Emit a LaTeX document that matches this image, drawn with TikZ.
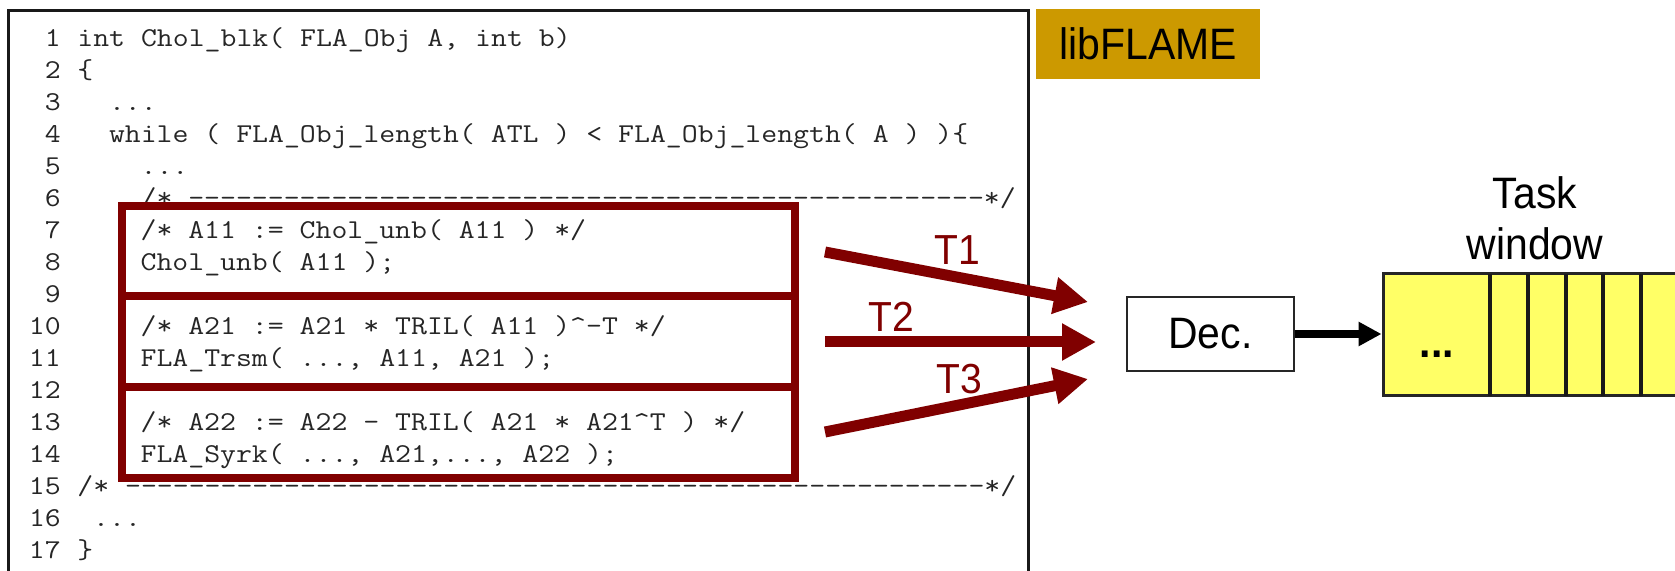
\documentclass[tikz,border=0pt]{standalone}
\usepackage{fontspec}
\setmainfont{Liberation Sans}[FakeStretch=0.93]
\newfontfamily\codefont{Latin Modern Mono}[FakeStretch=1.136]
\usetikzlibrary{arrows.meta}
\definecolor{boxred}{HTML}{800000}
\definecolor{gold}{HTML}{CC9900}
\definecolor{winyellow}{HTML}{FFFF66}
% a run of separate hyphens (no en-dash ligature)
\ExplSyntaxOn
\cs_new:Npn \dashrun #1 { \prg_replicate:nn {#1} { -{} } }
\ExplSyntaxOff
\tikzset{
  codeline/.style={anchor=base west, inner sep=0pt, text=black!85,
    font=\codefont\fontsize{13.6pt}{15pt}\selectfont},
  lineno/.style={codeline, anchor=base east},
  taskbox/.style={draw=boxred, line width=4pt, inner sep=0pt, minimum width=336.5pt},
  taskarrow/.style={draw=boxred, line width=5.5pt, -{Triangle[length=17pt,width=17.5pt]}},
  tlabel/.style={text=boxred, inner sep=0pt, font=\fontsize{21pt}{24pt}\selectfont},
  bigtext/.style={inner sep=0pt, font=\fontsize{22pt}{24pt}\selectfont},
}
\begin{document}
\begin{tikzpicture}[x=0.5pt, y=-0.5pt]
\useasboundingbox (0,0) rectangle (1675,571);
\clip (0,0) rectangle (1675,571);
\fill[white] (0,0) rectangle (1675,571);

% code listing frame
\draw[line width=1.5pt, black!90] (8.5,10.5) rectangle (1028.5,640);

% line numbers
\foreach \n in {1,...,17}
  \node[lineno] (n\n) at (61.2, {46.5+(\n-1)*32}) {\n};

% code text
\node[codeline] (l1)  at (77.0,46.5)  {int Chol\_blk( FLA\_Obj A, int b)};
\node[codeline] (l2)  at (77.0,78.5)  {\{};
\node[codeline] (l3)  at (108.6,110.5) {...};
\node[codeline] (l4)  at (108.6,142.5) {while ( FLA\_Obj\_length( ATL ) < FLA\_Obj\_length( A ) )\{};
\node[codeline] (l5)  at (140.2,174.5) {...};
\node[codeline] (l6)  at (140.2,206.5) {/* \dashrun{50}*/};
\node[codeline] (l7)  at (140.2,238.5) {/* A11 := Chol\_unb( A11 ) */};
\node[codeline] (l8)  at (140.2,270.5) {Chol\_unb( A11 );};
\node[codeline] (l10) at (140.2,334.5) {/* A21 := A21 * TRIL( A11 )\textasciicircum{}-T */};
\node[codeline] (l11) at (140.2,366.5) {FLA\_Trsm( ..., A11, A21 );};
\node[codeline] (l13) at (140.2,430.5) {/* A22 := A22 - TRIL( A21 * A21\textasciicircum{}T ) */};
\node[codeline] (l14) at (140.2,462.5) {FLA\_Syrk( ..., A21,..., A22 );};
\node[codeline] (l15) at (77.0,494.5)  {/* \dashrun{54}*/};
\node[codeline] (l16) at (92.8,526.5)  {...};
\node[codeline] (l17) at (77.0,558.5)  {\}};

% task blocks
\node[taskbox, minimum height=45.25pt] (b1) at (458,251.25) {};
\node[taskbox, minimum height=45.5pt]  (b2) at (458,342) {};
\node[taskbox, minimum height=45pt]    (b3) at (458,432.5) {};

% library tag
\node[bigtext, fill=gold, minimum width=112pt, minimum height=35pt] (lib) at (1148,44) {libFLAME};

% decoder and task window
\node[bigtext, draw=black!85, line width=1.3pt, minimum width=83.5pt, minimum height=37pt] (dec) at (1210.5,334) {Dec.};
\node[draw=black!85, fill=winyellow, line width=1.5pt, inner sep=0pt,
      minimum width=158.5pt, minimum height=61pt] (win) at (1541.5,335) {};
\foreach \x in {1490,1528,1566,1603,1641}
  \draw[line width=2pt, black!90] (\x,274) -- (\x,396);
\node[inner sep=0pt, font=\bfseries\fontsize{22pt}{24pt}\selectfont] (dots) at (1437,354) {...};
\node[bigtext, anchor=base] (tasklbl) at (1535,209) {Task};
\node[bigtext, anchor=base] (winlbl)  at (1535,260) {window};

% task arrows
\coordinate (t1s) at (825,252);  \coordinate (t1e) at (1088,302);
\coordinate (t2s) at (825,342);  \coordinate (t2e) at (1096,342);
\coordinate (t3s) at (825,432);  \coordinate (t3e) at (1088,379);
\draw[taskarrow] (t1s) -- (t1e);
\draw[taskarrow] (t2s) -- (t2e);
\draw[taskarrow] (t3s) -- (t3e);
\node[tlabel] (lt1) at (957,250) {T1};
\node[tlabel] (lt2) at (891,317) {T2};
\node[tlabel] (lt3) at (959,379) {T3};

% decoder feeds the window
\draw[line width=4pt, black, -{Triangle[length=11.5pt,width=11.5pt]}] (dec.east) -- (dec.east -| win.west);
\end{tikzpicture}
\end{document}
